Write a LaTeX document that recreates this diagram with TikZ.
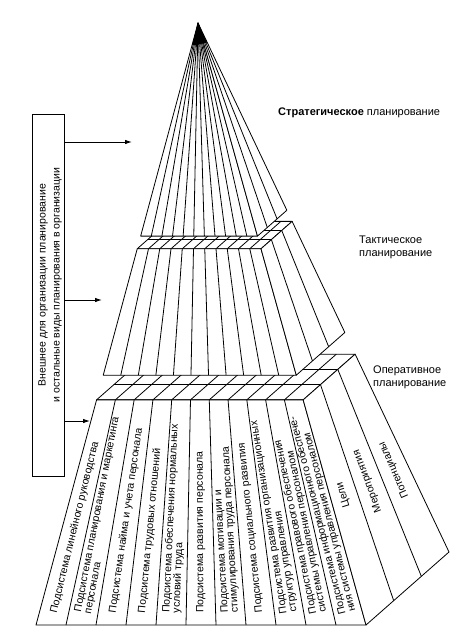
\documentclass[tikz,border=0pt]{standalone}
\usepackage{fontspec}
\setmainfont{Liberation Sans}
\usetikzlibrary{calc,arrows.meta}
\tikzset{
  facefill/.style={draw,fill=white,line width=0.8pt,line join=round},
  ribline/.style={line width=0.8pt},
  striptext/.style={sloped,allow upside down,anchor=west,inner sep=0pt,align=left,
    font=\fontsize{10.5}{10}\selectfont},
  sidetext/.style={sloped,allow upside down,anchor=center,inner sep=0pt,
    font=\fontsize{10.5}{10}\selectfont},
  tierlabel/.style={anchor=west,align=left,inner sep=0pt,font=\fontsize{11}{13}\selectfont},
  arr/.style={line width=0.9pt,-{Latex[length=7pt,width=4.5pt]}}
}
\begin{document}
\begin{tikzpicture}[x=1pt,y=-1pt]
  \useasboundingbox (0,0) rectangle (475,636);
  % corners of the pyramid base
  \coordinate (A) at (198,23);
  \coordinate (L) at (36,625);
  \coordinate (R) at (366,625);
  \coordinate (F) at (449,552);
  \coordinate (B) at ($(L)+(F)-(R)$);

  % three tiers, bottom first
  \foreach \ta/\tb in {0.626/1,0.375/0.585,0/0.354}{
    \ifdim\ta pt>0pt
      % top face
      \path[facefill] ($(A)!\ta!(L)$) -- ($(A)!\ta!(R)$) -- ($(A)!\ta!(F)$) -- ($(A)!\ta!(B)$) -- cycle;
      \foreach \i in {1,...,10}
        \draw[ribline] ($(A)!\ta!($(L)!\i/11!(R)$)$) -- ($(A)!\ta!($(B)!\i/11!(F)$)$);
      \foreach \k in {1,2}
        \draw[ribline] ($(A)!\ta!($(R)!\k/3!(F)$)$) -- ($(A)!\ta!($(L)!\k/3!(B)$)$);
    \fi
    % front face
    \path[facefill] ($(A)!\ta!(L)$) -- ($(A)!\tb!(L)$) -- ($(A)!\tb!(R)$) -- ($(A)!\ta!(R)$) -- cycle;
    \foreach \i in {1,...,10}
      \draw[ribline] ($(A)!\ta!($(L)!\i/11!(R)$)$) -- ($(A)!\tb!($(L)!\i/11!(R)$)$);
    % side face
    \path[facefill] ($(A)!\ta!(R)$) -- ($(A)!\tb!(R)$) -- ($(A)!\tb!(F)$) -- ($(A)!\ta!(F)$) -- cycle;
    \foreach \k in {1,2}
      \draw[ribline] ($(A)!\ta!($(R)!\k/3!(F)$)$) -- ($(A)!\tb!($(R)!\k/3!(F)$)$);
  }
  \fill (A) -- ($(A)!0.037!(L)$) -- ($(A)!0.037!(F)$) -- cycle;

  % subsystems on the front
  \foreach \i/\txt [evaluate=\i as \f using (\i+0.5)/11] in {
      0/{Подсистема линейного руководства},
      1/{Подсистема планирования и маркетинга\\персонала},
      2/{Подсистема найма и учета персонала},
      3/{Подсистема трудовых отношений},
      4/{Подсистема обеспечения нормальных\\условий труда},
      5/{Подсистема развития персонала},
      6/{Подсистема мотивации и\\стимулирования труда персонала},
      7/{Подсистема социального развития},
      8/{Подсистема развития организационных\\структур управления},
      9/{Подсистема правового обеспечения\\системы управления персоналом},
      10/{Подсистема информационного обеспече-\\ния системы управления персоналом}}
    \path ($(L)!\f!(R)$) -- (A) node[striptext,pos=0.02] {\txt};

  % side of the bottom tier
  \foreach \j/\txt/\p [evaluate=\j as \f using (\j+0.5)/3] in {
      0/Цели/0.2, 1/Мероприятия/0.19, 2/Потенциалы/0.174}
    \path ($(R)!\f!(F)$) -- (A) node[sidetext,pos=\p] {\txt};

  % levels
  \node[tierlabel] (strat) at (278,113) {{\bfseries Стратегическое} планирование};
  \node[tierlabel] (tact) at (359,247) {Тактическое\\планирование};
  \node[tierlabel] (oper) at (373,377) {Оперативное\\планирование};

  % outside planning box
  \node (ext) [draw,line width=0.9pt,minimum width=32pt,minimum height=362pt,inner sep=0pt] at (48,295) {};
  \node (exttext) [rotate=90,align=center,font=\fontsize{10.5}{14}\selectfont] at (50,285)
    {Внешнее для организации планирование\\и остальные виды планирования в организации};
  \coordinate (s1) at (132,142);
  \coordinate (t1) at (102,300);
  \coordinate (o1) at (90,421);
  \draw[arr] (ext.east |- s1) -- (s1);
  \draw[arr] (ext.east |- t1) -- (t1);
  \draw[arr] (ext.east |- o1) -- (o1);
\end{tikzpicture}
\end{document}
